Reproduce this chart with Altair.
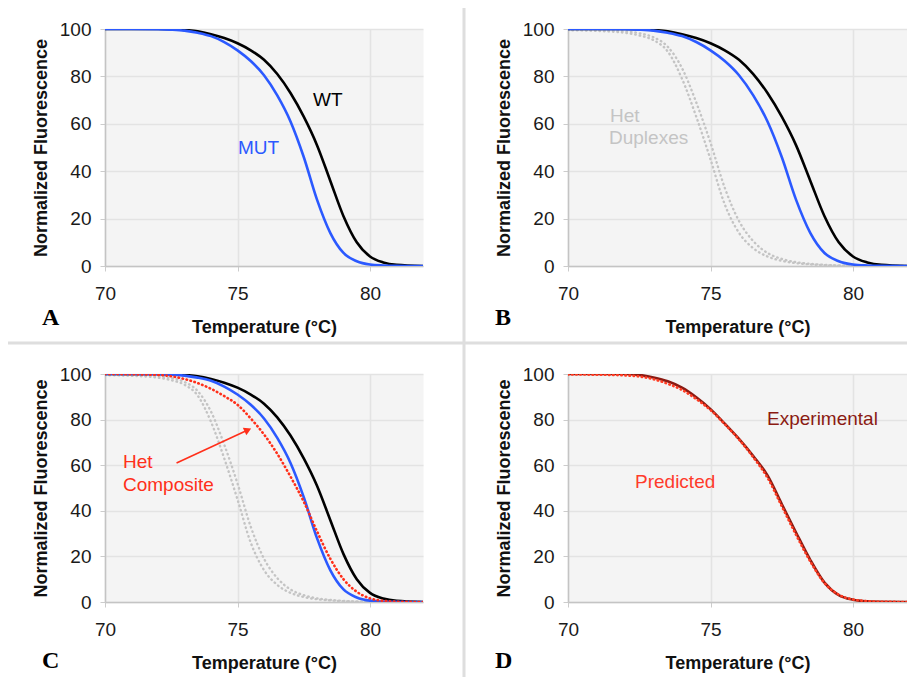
import altair as alt
import pandas as pd

# ---------------- data ----------------
temps = [70, 71, 72, 72.5, 73, 73.5, 74, 74.5, 75, 75.5, 76, 76.5, 77, 77.5,
         78, 78.5, 79, 79.5, 80, 80.5, 81, 82]

wt = [100, 100, 100, 99.9, 99.6, 99.0, 97.8, 96.2, 94.0, 91.0, 87.0, 81.0,
      73.0, 63.0, 51.0, 36.0, 21.0, 10.0, 4.0, 1.5, 0.5, 0.0]
mut = [100, 100, 99.9, 99.7, 99.3, 98.4, 97.0, 94.5, 91.0, 86.5, 80.5, 72.0,
       61.0, 46.0, 28.0, 14.0, 5.5, 2.0, 0.6, 0.2, 0.05, 0.0]
het_dup_1 = [99.5, 99.2, 98.4, 97.3, 95.3, 90.5, 79.0, 63.0, 45.0, 26.0, 14.0,
             7.5, 4.0, 2.2, 1.2, 0.7, 0.35, 0.15, 0.05, 0.0, 0.0, 0.0]
het_dup_2 = [99.7, 99.5, 99.0, 98.2, 96.5, 92.5, 83.5, 69.0, 52.0, 33.0, 19.0,
             10.5, 5.5, 3.0, 1.6, 0.9, 0.5, 0.2, 0.08, 0.0, 0.0, 0.0]
het_composite = [100, 99.9, 99.6, 99.0, 97.8, 96.0, 93.5, 90.3, 86.5, 80.5,
                 73.5, 65.0, 55.0, 44.0, 31.0, 19.0, 10.0, 4.5, 1.6, 0.5, 0.15, 0.0]
experimental = [100, 100, 100, 99.6, 98.5, 96.8, 94.0, 89.8, 84.6, 78.2, 71.5,
                64.0, 55.5, 43.0, 30.5, 18.5, 8.5, 3.0, 1.0, 0.3, 0.1, 0.0]
predicted = [99.8, 99.7, 99.4, 98.9, 97.7, 95.7, 93.0, 89.0, 84.2, 78.0, 71.3,
             63.5, 54.5, 42.0, 29.5, 17.8, 8.3, 3.2, 1.1, 0.4, 0.1, 0.0]

x_ticks = [70, 75, 80]
y_ticks = [0, 20, 40, 60, 80, 100]
panel_letters = ["A", "B", "C", "D"]
arrow_from = [72.7, 61.0]
arrow_to = [75.35, 75.25]

BLACK = "#000000"
BLUE = "#2b59ff"
GRAY = "#c4c4c4"
RED = "#ff2f1a"
DARKRED = "#8b1a12"
SEP = "#dedede"

# left panels: 26.5 px per degree over 70..82 ; right panels: 28.5 px per degree
W_LEFT, W_RIGHT = 318, 339
X_MAX_RIGHT = 70 + W_RIGHT / 28.5

YS = alt.Scale(domain=[0, 100], nice=False)
Y = alt.Y("F:Q", scale=YS,
          axis=alt.Axis(values=y_ticks, title="Normalized Fluorescence",
                        labelFlush=False))


def xenc(xmax):
    return alt.X("T:Q", scale=alt.Scale(domain=[70, xmax], nice=False, zero=False),
                 axis=alt.Axis(values=x_ticks, title="Temperature (°C)",
                               format="d", labelFlush=False))


XL = xenc(82)
XR = xenc(X_MAX_RIGHT)


def curve(values, color, X, dash=None, width=2.6):
    df = pd.DataFrame({"T": temps, "F": values})
    kw = dict(color=color, strokeWidth=width, interpolate="monotone", clip=True)
    if dash:
        kw["strokeDash"] = dash
        kw["strokeCap"] = "round"
    return alt.Chart(df).mark_line(**kw).encode(x=X, y=Y)


def label(text, x, y, color, size=19, font="Liberation Sans", weight="normal"):
    return alt.Chart(pd.DataFrame({"t": [text]})).mark_text(
        align="left", baseline="alphabetic", font=font, fontSize=size,
        fontWeight=weight, color=color
    ).encode(x=alt.value(x), y=alt.value(y), text="t:N")


def letter(text, x, y):
    return label(text, x, y, "#000000", size=24, font="Liberation Serif", weight="bold")


def rule(x1, x2, y1, y2):
    return alt.Chart(pd.DataFrame({"a": [0]})).mark_rule(
        color=SEP, strokeWidth=3
    ).encode(x=alt.value(x1), x2=alt.value(x2), y=alt.value(y1), y2=alt.value(y2))


DOT_GRAY = [0.5, 4]
DOT_RED = [0.5, 3.6]

panel_a = alt.layer(
    curve(wt, BLACK, XL),
    curve(mut, BLUE, XL),
    label("WT", 208, 77, BLACK),
    label("MUT", 133, 125, BLUE),
    letter(panel_letters[0], -63, 296),
).properties(width=W_LEFT, height=237)

panel_b = alt.layer(
    rule(-104, -104, -21, 648),
    curve(het_dup_1, GRAY, XR, DOT_GRAY, 2.4),
    curve(het_dup_2, GRAY, XR, DOT_GRAY, 2.4),
    curve(wt, BLACK, XR),
    curve(mut, BLUE, XR),
    label("Het", 42, 93, GRAY),
    label("Duplexes", 41, 115, GRAY),
    letter(panel_letters[1], -73, 296),
).properties(width=W_RIGHT, height=237)

arrow_df = pd.DataFrame({"T": [arrow_from[0]], "F": [arrow_from[1]],
                         "T2": [arrow_to[0]], "F2": [arrow_to[1]]})
arrow_line = alt.Chart(arrow_df).mark_rule(color=RED, strokeWidth=1.6).encode(
    x=XL, y=Y, x2="T2:Q", y2="F2:Q")
arrow_head = alt.Chart(arrow_df).mark_point(
    shape="triangle", angle=65, size=70, filled=True, color=RED, opacity=1
).encode(x=alt.X("T2:Q", scale=alt.Scale(domain=[70, 82], nice=False, zero=False)),
         y=alt.Y("F2:Q", scale=YS))

panel_c = alt.layer(
    rule(-97, 802, -31, -31),
    curve(het_dup_1, GRAY, XL, DOT_GRAY, 2.4),
    curve(het_dup_2, GRAY, XL, DOT_GRAY, 2.4),
    curve(wt, BLACK, XL),
    curve(mut, BLUE, XL),
    curve(het_composite, RED, XL, DOT_RED, 2.6),
    arrow_line,
    arrow_head,
    label("Het", 18, 94, RED),
    label("Composite", 18, 117, RED),
    letter(panel_letters[2], -63, 294),
).properties(width=W_LEFT, height=228)

panel_d = alt.layer(
    curve(experimental, DARKRED, XR, None, 2.6),
    curve(predicted, "#ff3b22", XR, DOT_RED, 2.6),
    label("Experimental", 199, 51, DARKRED),
    label("Predicted", 67, 114, "#ff3b2b"),
    letter(panel_letters[3], -73, 294),
).properties(width=W_RIGHT, height=228)

chart = alt.concat(
    panel_a, panel_b, panel_c, panel_d,
    columns=2,
    spacing={"row": 108, "column": 145},
    bounds="flush",
    align="each",
).properties(
    autosize=alt.AutoSizeParams(type="none"),
    padding={"left": 97, "top": 21, "right": 802, "bottom": 648},
).configure(background="white").configure_view(
    fill="#f4f4f4", stroke="transparent"
).configure_axis(
    gridColor="#e3e3e3", gridWidth=1.5,
    domainColor="#c4c4c4", domainWidth=1.5,
    tickColor="#cccccc", tickSize=5,
    labelFont="Liberation Sans", labelFontSize=19, labelColor="#1a1a1a",
    titleFont="Liberation Sans", titleFontSize=18, titleFontWeight="bold",
    titleColor="#111111",
).configure_axisX(labelPadding=13, titlePadding=15).configure_axisY(
    labelPadding=9, titlePadding=9
)

chart.save("out.html", embed_options={"renderer": "svg", "actions": False})
